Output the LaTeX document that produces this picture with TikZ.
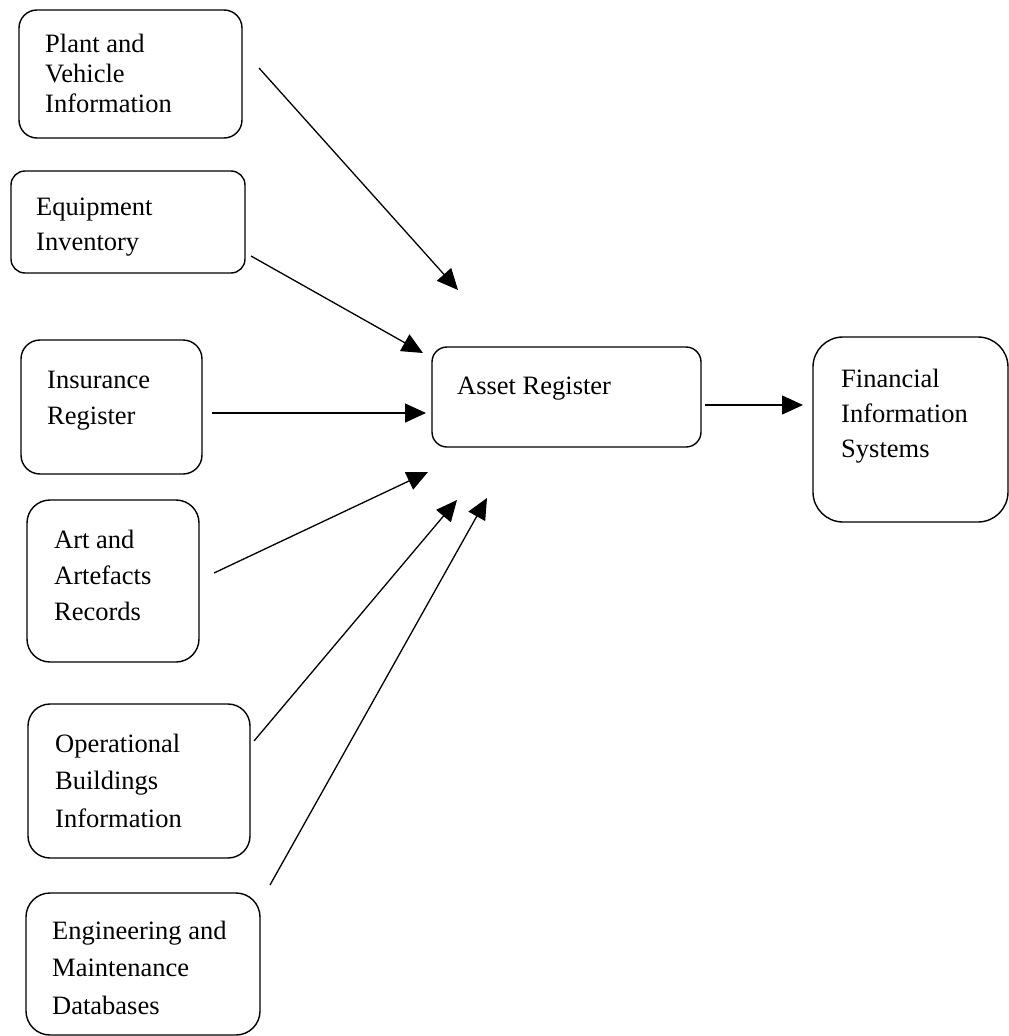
\documentclass[tikz,border=0pt]{standalone}
\usepackage{fontspec}
\setmainfont{Liberation Serif}
\usetikzlibrary{arrows.meta}
\newcommand\mlines[2]{\vtop{\baselineskip=#1\lineskiplimit=-1000pt\lineskip=0pt\relax #2}}
\begin{document}
\begin{tikzpicture}[x=1pt,y=-1pt,
  boxshape/.style={draw, line width=1.4pt, rounded corners=#1, inner sep=0pt},
  txt/.style={inner sep=0pt, anchor=base west, font=\fontsize{26.5}{30}\selectfont},
  flow/.style={line width=1.3pt, -{Triangle[length=21pt,width=19pt]}}]
\useasboundingbox (0,0) rectangle (1009,1036);
% boxes
\node[boxshape=18pt, minimum width=223pt, minimum height=128pt] (plant) at (130.5,74) {};
\node[boxshape=14pt, minimum width=234pt, minimum height=102pt] (equip) at (128,222) {};
\node[boxshape=19pt, minimum width=181pt, minimum height=134pt] (insur) at (111.5,407) {};
\node[boxshape=23pt, minimum width=172pt, minimum height=162pt] (art) at (113,581) {};
\node[boxshape=22pt, minimum width=222pt, minimum height=154pt] (oper) at (139,781) {};
\node[boxshape=24pt, minimum width=234pt, minimum height=142pt] (eng) at (143,964) {};
\node[boxshape=15pt, minimum width=269pt, minimum height=100pt] (asset) at (566.5,397) {};
\node[boxshape=30pt, minimum width=195pt, minimum height=185pt] (fin) at (910.5,429.5) {};
% texts
\node[txt] (tplant) at (45,52) {\mlines{30pt}{\hbox{Plant and}\hbox{Vehicle}\hbox{Information}}};
\node[txt] (tequip) at (36,215) {\mlines{35pt}{\hbox{Equipment}\hbox{Inventory}}};
\node[txt] (tinsur) at (47,388) {\mlines{36pt}{\hbox{Insurance}\hbox{Register}}};
\node[txt] (tart) at (54,548) {\mlines{36pt}{\hbox{Art and}\hbox{Artefacts}\hbox{Records}}};
\node[txt] (toper) at (55,752) {\mlines{37.5pt}{\hbox{Operational}\hbox{Buildings}\hbox{Information}}};
\node[txt] (teng) at (52,939) {\mlines{37.5pt}{\hbox{Engineering and}\hbox{Maintenance}\hbox{Databases}}};
\node[txt] (tasset) at (457,394) {Asset Register};
\node[txt] (tfin) at (841,387) {\mlines{35pt}{\hbox{Financial}\hbox{Information}\hbox{Systems}}};
% connector end points
\coordinate (s1) at (259,68);  \coordinate (e1) at (458,290);
\coordinate (s2) at (251,256); \coordinate (e2) at (423,353);
\coordinate (s3) at (212,413); \coordinate (e3) at (426,413);
\coordinate (s4) at (214,573); \coordinate (e4) at (428,472);
\coordinate (s5) at (254,741); \coordinate (e5) at (457,500);
\coordinate (s6) at (270,885); \coordinate (e6) at (487,498);
\coordinate (s7) at (705,405); \coordinate (e7) at (803,405);
% connectors
\draw[flow] (s1) -- (e1);
\draw[flow] (s2) -- (e2);
\draw[flow] (s3) -- (e3);
\draw[flow] (s4) -- (e4);
\draw[flow] (s5) -- (e5);
\draw[flow] (s6) -- (e6);
\draw[flow] (s7) -- (e7);
\end{tikzpicture}
\end{document}
